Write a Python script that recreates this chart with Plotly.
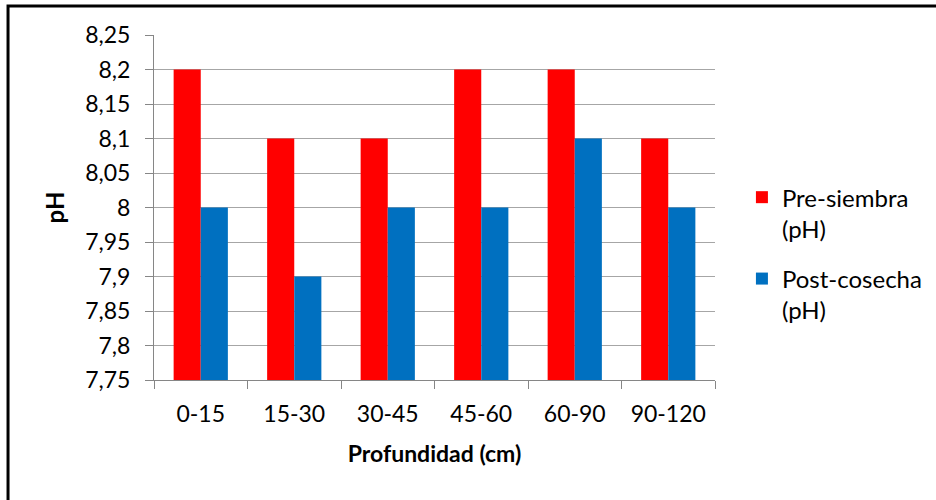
import plotly.graph_objects as go

categories = ["0-15", "15-30", "30-45", "45-60", "60-90", "90-120"]
pre_siembra = [8.2, 8.1, 8.1, 8.2, 8.2, 8.1]
post_cosecha = [8.0, 7.9, 8.0, 8.0, 8.1, 8.0]
y_tickvals = [7.75, 7.8, 7.85, 7.9, 7.95, 8.0, 8.05, 8.1, 8.15, 8.2, 8.25]
y_ticktext = ["7,75", "7,8", "7,85", "7,9", "7,95", "8", "8,05", "8,1", "8,15", "8,2", "8,25"]

FONT = "Lato, Open Sans, sans-serif"

fig = go.Figure()
fig.add_trace(go.Bar(x=categories, y=pre_siembra, name="Pre-siembra<br>(pH)",
                     marker=dict(color="#FF0000", line=dict(width=0)),
                     legendgroup="a"))
fig.add_trace(go.Bar(x=categories, y=post_cosecha, name="Post-cosecha<br>(pH)",
                     marker=dict(color="#0070C0", line=dict(width=0)),
                     legendgroup="b"))

fig.update_layout(
    width=936, height=500,
    margin=dict(l=154, r=221, t=35, b=120, autoexpand=False),
    paper_bgcolor="white", plot_bgcolor="white",
    barmode="group", bargap=0.42, bargroupgap=0,
    font=dict(family=FONT, size=23, color="black"),
    legend=dict(x=1.048, y=0.594, xanchor="left", yanchor="top",
                font=dict(size=24), valign="top",
                traceorder="grouped", tracegroupgap=16,
                itemwidth=30),
    xaxis=dict(
        tickson="boundaries", ticks="outside", ticklen=8, tickcolor="#868686",
        showline=True, linecolor="#868686", linewidth=1,
        showgrid=False, ticklabelstandoff=13,
        title=dict(text="<b>Profundidad (cm)</b>", font=dict(size=23), standoff=20),
        tickfont=dict(size=23),
    ),
    yaxis=dict(
        range=[7.75, 8.25], tickvals=y_tickvals, ticktext=y_ticktext,
        ticks="outside", ticklen=8, tickcolor="#868686",
        showline=True, linecolor="#868686", linewidth=1,
        showgrid=True, gridcolor="#A6A6A6", gridwidth=1,
        zeroline=False, ticklabelstandoff=10,
        title=dict(text="<b>pH</b>", font=dict(size=24), standoff=13),
        tickfont=dict(size=23),
    ),
    showlegend=True,
)

fig.add_shape(type="rect", xref="paper", yref="paper",
              x0=-0.2602, x1=1.6, y0=-0.6, y1=1.0841,
              line=dict(color="black", width=3), layer="above")

fig.write_html("out.html", config={"displayModeBar": False},
               post_script="document.body.style.margin='0';")
